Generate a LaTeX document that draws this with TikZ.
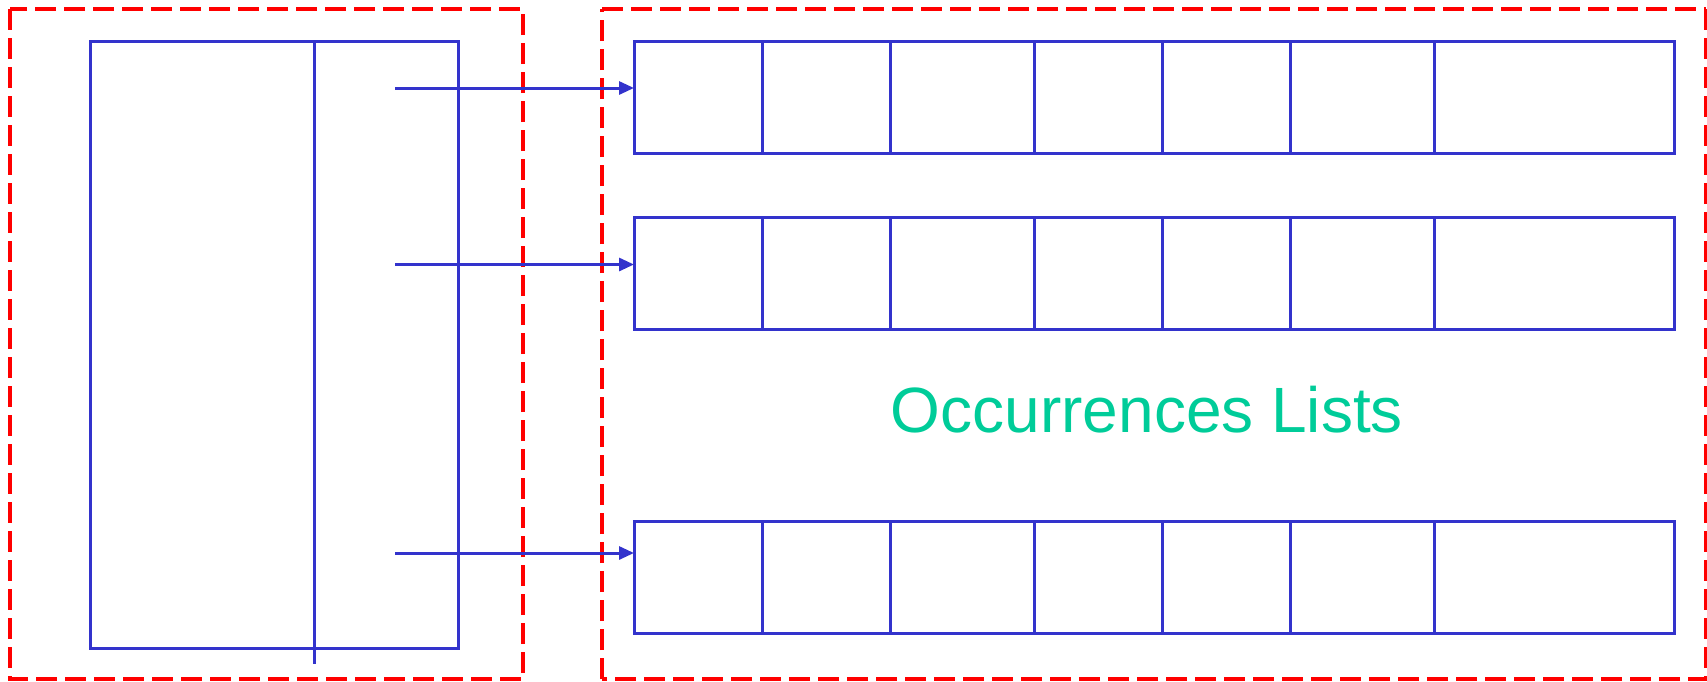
\documentclass[tikz,border=0pt]{standalone}
\usepackage{fontspec}
\setmainfont{Liberation Sans}
\usetikzlibrary{arrows.meta}
\definecolor{lineblue}{HTML}{3333CC}
\definecolor{frame}{HTML}{FF0000}
\definecolor{labelgreen}{HTML}{00CC99}
\tikzset{
  region/.style={draw=frame, line width=3.2pt, dash pattern=on 21pt off 8pt},
  blueline/.style={draw=lineblue, line width=3pt},
  tablebox/.style={blueline, inner sep=0pt, outer sep=0pt},
  listrow/.style={tablebox, minimum width=1040pt, minimum height=112pt},
  pointer/.style={blueline, -{Triangle[length=15pt,width=13pt]}},
}
\begin{document}
\begin{tikzpicture}[x=1pt, y=-1pt]
\useasboundingbox (0,0) rectangle (1707,681);

% dashed regions
\draw[region] (10,9) rectangle (523,679);
\draw[region] (602,9) -- (1706,9);
\draw[region] (602,679) -- (602,9);
\draw[region] (1706,9) -- (1706,679) -- (602,679);

% index table with its column divider
\node[tablebox, minimum width=368pt, minimum height=607pt] (index) at (274,344.5) {};
\coordinate (divtop) at (314,41);
\coordinate (divbot) at (314,664);
\draw[blueline] (divtop) -- (divbot);

% occurrence list rows, each split into seven cells
\foreach \r/\yc in {1/97, 2/273, 3/577}{
  \node[listrow] (row\r) at (1154,\yc) {};
  \foreach \x in {762,890,1034,1162,1290,1434}{
    \draw[blueline] (\x,0 |- row\r.north) -- (\x,0 |- row\r.south);
  }
}

% pointers from the index into the lists
\coordinate (p1) at (395,88);
\coordinate (p2) at (395,264.5);
\coordinate (p3) at (395,553);
\draw[pointer] (p1) -- (p1 -| row1.west);
\draw[pointer] (p2) -- (p2 -| row2.west);
\draw[pointer] (p3) -- (p3 -| row3.west);

% caption
\node[anchor=base, text=labelgreen, font=\fontsize{64}{70}\selectfont, inner sep=0pt] (caption) at (1147,432) {Occurrences Lists};
\end{tikzpicture}
\end{document}
